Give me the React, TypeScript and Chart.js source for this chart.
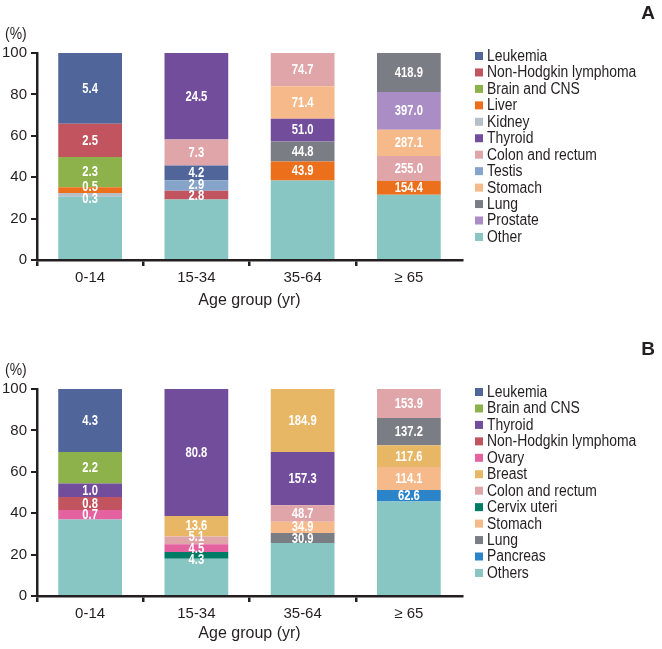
import React, { useEffect, useRef } from 'react';
import { Chart, registerables } from 'chart.js';

Chart.register(...registerables);

// ---------- shared ----------
const AGE_GROUPS = ['0-14', '15-34', '35-64', '\u2265 65'];
const X_TITLE = 'Age group (yr)';
const Y_UNIT = '(%)';
const Y_MAX = 100;
const Y_STEP = 20;

// ---------- Panel A ----------
const A_NAMES = ['Leukemia', 'Non-Hodgkin lymphoma', 'Brain and CNS', 'Liver', 'Kidney', 'Thyroid', 'Colon and rectum', 'Testis', 'Stomach', 'Lung', 'Prostate', 'Other'];
const A_COLORS = ['#50659a', '#c2545f', '#8db14b', '#ec6f1c', '#b9bfc8', '#714d9c', '#e0a5a9', '#86a4c9', '#f6b98a', '#7b7d85', '#aa8dc5', '#88c6c4'];
// share of cases (%) per age group, aligned with A_NAMES
const A_SHARE: (number | null)[][] = [
  [34.2, 7.1, null, null],
  [16.0, 4.3, null, null],
  [14.6, null, null, null],
  [2.8, null, 9.2, 6.7],
  [1.9, null, null, null],
  [null, 41.8, 10.9, null],
  [null, 12.6, 16.1, 12.0],
  [null, 5.0, null, null],
  [null, null, 15.7, 12.7],
  [null, null, 9.7, 18.9],
  [null, null, null, 18.2],
  [30.5, 29.2, 38.4, 31.5],
];
// rates shown inside the segments
const A_RATE: (number | null)[][] = [
  [5.4, 4.2, null, null],
  [2.5, 2.8, null, null],
  [2.3, null, null, null],
  [0.5, null, 43.9, 154.4],
  [0.3, null, null, null],
  [null, 24.5, 51.0, null],
  [null, 7.3, 74.7, 255.0],
  [null, 2.9, null, null],
  [null, null, 71.4, 287.1],
  [null, null, 44.8, 418.9],
  [null, null, null, 397.0],
  [null, null, null, null],
];

// ---------- Panel B ----------
const B_NAMES = ['Leukemia', 'Brain and CNS', 'Thyroid', 'Non-Hodgkin lymphoma', 'Ovary', 'Breast', 'Colon and rectum', 'Cervix uteri', 'Stomach', 'Lung', 'Pancreas', 'Others'];
const B_COLORS = ['#50659a', '#8db14b', '#714d9c', '#c2545f', '#e3629f', '#e8b766', '#e0a5a9', '#007b66', '#f6b98a', '#7b7d85', '#2b84c9', '#88c6c4'];
const B_SHARE: (number | null)[][] = [
  [30.4, null, null, null],
  [15.2, null, null, null],
  [6.6, 61.4, 25.8, null],
  [6.3, null, null, null],
  [4.5, 3.7, null, null],
  [null, 9.9, 30.4, 10.5],
  [null, 3.7, 7.9, 14.0],
  [null, 3.3, null, null],
  [null, null, 5.5, 11.1],
  [null, null, 4.8, 13.2],
  [null, null, null, 5.5],
  [37.0, 18.0, 25.6, 45.7],
];
const B_RATE: (number | null)[][] = [
  [4.3, null, null, null],
  [2.2, null, null, null],
  [1.0, 80.8, 157.3, null],
  [0.8, null, null, null],
  [0.7, 4.5, null, null],
  [null, 13.6, 184.9, 117.6],
  [null, 5.1, 48.7, 153.9],
  [null, 4.3, null, null],
  [null, null, 34.9, 114.1],
  [null, null, 30.9, 137.2],
  [null, null, null, 62.6],
  [null, null, null, null],
];

const FONT = '"Liberation Sans", Arial, Helvetica, sans-serif';
const DARK = '#231f20';
const NARROW = 0.87;
const LABEL_NARROW = 0.8;

function buildDatasets(names: string[], colors: string[], shares: (number | null)[][], rates: (number | null)[][]) {
  const otherIdx = names.length - 1;
  const perCat = AGE_GROUPS.map((_, c) => {
    const items = names
      .map((n, i) => ({ i, share: shares[i][c], rate: rates[i][c] }))
      .filter((it) => it.share != null);
    const other = items.filter((it) => it.i === otherIdx);
    const rest = items
      .filter((it) => it.i !== otherIdx)
      .sort((a, b) => (a.rate ?? 0) - (b.rate ?? 0));
    return [...other, ...rest];
  });
  const depth = Math.max(...perCat.map((p) => p.length));
  const ds: any[] = [];
  for (let r = 0; r < depth; r++) {
    ds.push({
      label: 'layer ' + r,
      data: perCat.map((p) => (p[r] ? p[r].share : null)),
      backgroundColor: perCat.map((p) => (p[r] ? colors[p[r].i] : 'transparent')),
      rateLabels: perCat.map((p) => (p[r] ? p[r].rate : null)),
      borderWidth: 0,
      barPercentage: 0.6,
      categoryPercentage: 1.0,
    });
  }
  return ds;
}

// draw text squeezed horizontally (condensed look)
function narrowText(ctx: CanvasRenderingContext2D, text: string, x: number, y: number, k: number = NARROW) {
  ctx.save();
  ctx.translate(x, y);
  ctx.scale(k, 1);
  ctx.fillText(text, 0, 0);
  ctx.restore();
}

type PanelProps = {
  letter: string;
  names: string[];
  colors: string[];
  shares: (number | null)[][];
  rates: (number | null)[][];
  top: number;
  height: number;
  padTop: number;
  xAxisHeight: number;
};

function Panel(props: PanelProps) {
  const ref = useRef<HTMLCanvasElement | null>(null);
  useEffect(() => {
    if (!ref.current) return;
    const { names, colors, shares, rates, letter, padTop, xAxisHeight } = props;

    const extrasPlugin = {
      id: 'extras',
      afterDatasetsDraw(chart: any) {
        const ctx = chart.ctx;
        ctx.save();
        ctx.font = `bold 14px ${FONT}`;
        ctx.fillStyle = '#ffffff';
        ctx.textAlign = 'center';
        ctx.textBaseline = 'middle';
        AGE_GROUPS.forEach((_, c) => {
          const items: { x: number; y: number; text: string }[] = [];
          chart.data.datasets.forEach((ds: any, d: number) => {
            const v = ds.rateLabels[c];
            if (v == null) return;
            const el = chart.getDatasetMeta(d).data[c];
            const p = el.getProps(['x', 'y', 'base'], true);
            items.push({ x: p.x, y: (p.y + p.base) / 2, text: v.toFixed(1) });
          });
          items.sort((a, b) => a.y - b.y);
          const MIN = 11.5;
          for (let k = 0; k < 30; k++) {
            for (let i = 0; i < items.length - 1; i++) {
              const gap = items[i + 1].y - items[i].y;
              if (gap < MIN) {
                const dd = (MIN - gap) / 2;
                items[i].y -= dd;
                items[i + 1].y += dd;
              }
            }
          }
          items.forEach((it) => narrowText(ctx, it.text, it.x, it.y + 0.5, LABEL_NARROW));
        });
        ctx.restore();
      },
      afterDraw(chart: any) {
        const ctx = chart.ctx;
        const area = chart.chartArea;
        ctx.save();
        ctx.font = `16px ${FONT}`;
        ctx.textBaseline = 'middle';
        ctx.textAlign = 'left';
        const x0 = area.right + 13;
        names.forEach((n, i) => {
          const y = area.top + 3 + i * 16.45;
          ctx.fillStyle = colors[i];
          ctx.fillRect(x0, y - 4, 8, 8);
          ctx.fillStyle = DARK;
          narrowText(ctx, n, x0 + 12, y + 0.5);
        });
        ctx.fillStyle = DARK;
        ctx.font = `16px ${FONT}`;
        narrowText(ctx, Y_UNIT, 5, area.top - 18);
        ctx.font = `bold 19px ${FONT}`;
        ctx.textAlign = 'right';
        ctx.fillText(letter, 655, area.top - 39);
        ctx.restore();
      },
    };

    const chart = new Chart(ref.current, {
      type: 'bar',
      data: {
        labels: AGE_GROUPS,
        datasets: buildDatasets(names, colors, shares, rates),
      },
      options: {
        responsive: false,
        animation: false,
        layout: { padding: { top: padTop, right: 200, left: 0, bottom: 0 } },
        plugins: {
          legend: { display: false },
          tooltip: { enabled: false },
        },
        scales: {
          x: {
            stacked: true,
            grid: {
              display: true,
              drawOnChartArea: false,
              drawTicks: true,
              tickLength: 6,
              lineWidth: 2.5,
              offset: true,
              color: (c: any) => (c.index === undefined ? 'rgba(0,0,0,0)' : DARK),
            },
            border: { display: true, color: DARK, width: 2.5 },
            ticks: { color: DARK, font: { family: FONT, size: 15 }, padding: 3 },
            title: {
              display: true,
              text: X_TITLE,
              color: DARK,
              font: { family: FONT, size: 16 },
              padding: 0,
            },
            afterFit: (s: any) => {
              s.height = xAxisHeight;
            },
          },
          y: {
            stacked: true,
            min: 0,
            max: Y_MAX,
            grid: {
              display: true,
              drawOnChartArea: false,
              drawTicks: true,
              tickLength: 6,
              lineWidth: 2,
              color: DARK,
            },
            border: { display: true, color: DARK, width: 2.5 },
            ticks: { stepSize: Y_STEP, color: DARK, font: { family: FONT, size: 15 }, padding: 4 },
            afterFit: (s: any) => {
              s.width = 37;
            },
          },
        },
      } as any,
      plugins: [extrasPlugin],
    });
    return () => chart.destroy();
  }, []);
  return (
    <canvas
      ref={ref}
      width={662}
      height={props.height}
      style={{ position: 'absolute', left: 0, top: props.top, width: 662, height: props.height }}
    />
  );
}

export default function App() {
  return (
    <div style={{ position: 'absolute', left: 0, top: 0, width: 662, height: 649, background: '#ffffff' }}>
      <Panel letter="A" names={A_NAMES} colors={A_COLORS} shares={A_SHARE} rates={A_RATE} top={0} height={310} padTop={53} xAxisHeight={50} />
      <Panel letter="B" names={B_NAMES} colors={B_COLORS} shares={B_SHARE} rates={B_RATE} top={325} height={318} padTop={64} xAxisHeight={47} />
    </div>
  );
}
